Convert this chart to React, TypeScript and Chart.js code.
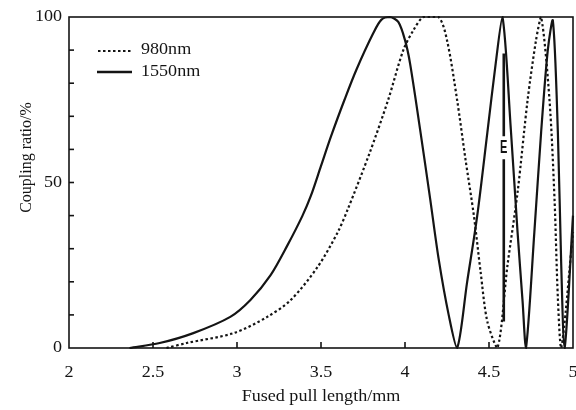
import React, { useEffect, useRef } from 'react';
import { Chart, registerables } from 'chart.js';

Chart.register(...registerables);

// 1550 nm (solid)
const x1550 = [2.36, 2.54, 2.74, 2.96, 3.08, 3.2, 3.3, 3.39, 3.44, 3.5, 3.56, 3.64, 3.71, 3.81, 3.86, 3.91, 3.96, 4.0, 4.03, 4.09, 4.15, 4.2, 4.26, 4.31, 4.37, 4.43, 4.49, 4.54, 4.58, 4.63, 4.67, 4.7, 4.72, 4.77, 4.81, 4.85, 4.88, 4.91, 4.93, 4.95, 5.0];
const y1550 = [0, 1.5, 4.5, 9.4, 14.5, 22, 31, 40, 46, 55, 64, 75, 84, 95, 99.2, 100, 98.5, 93, 86, 66, 45, 27, 10, 0, 20, 40, 65, 86, 100, 66, 35, 14, 0, 35, 65, 90, 99, 65, 25, 0, 40];

// 980 nm (dotted)
const x980 = [2.58, 2.7, 2.98, 3.18, 3.32, 3.48, 3.6, 3.66, 3.79, 3.9, 3.99, 4.05, 4.11, 4.2, 4.25, 4.31, 4.36, 4.41, 4.45, 4.49, 4.55, 4.61, 4.67, 4.73, 4.78, 4.81, 4.86, 4.89, 4.91, 4.93, 5.0];
const y980 = [0, 1.5, 4.5, 9.4, 14.5, 24.5, 35, 42, 59, 75, 90, 96, 100, 100, 93, 75, 57, 40, 23, 8, 0, 25, 47, 75, 93, 100, 75, 45, 15, 0, 35];

// vertical marker with "E"
const markerX = [4.588, 4.588, 4.588, 4.588, 4.588];
const markerY: (number | null)[] = [89, 64, null, 57, 8];
const markerLabel = 'E';

const xTicks = [2, 2.5, 3, 3.5, 4, 4.5, 5];
const xTickLabels = ['2', '2.5', '3', '3.5', '4', '4.5', '5'];
const yTicks = [0, 50, 100];
const yTickLabels = ['0', '50', '100'];
const yMinorTicks = [10, 20, 30, 40, 60, 70, 80, 90];
const legendLabels = ['980nm', '1550nm'];
const xTitle = 'Fused pull length/mm';
const yTitle = 'Coupling ratio/%';

const INK = '#141414';
const SERIF = '"Liberation Serif", "Times New Roman", serif';

function stretchText(ctx: CanvasRenderingContext2D, s: string, x: number, y: number, align: 'left' | 'center' | 'right', sx: number) {
  const w = ctx.measureText(s).width * sx;
  let x0 = x;
  if (align === 'center') x0 = x - w / 2;
  if (align === 'right') x0 = x - w;
  ctx.save();
  ctx.translate(x0, y);
  ctx.scale(sx, 1);
  ctx.textAlign = 'left';
  ctx.fillText(s, 0, 0);
  ctx.restore();
}

const decorPlugin = {
  id: 'decor',
  afterDraw(chart: any) {
    const { ctx, chartArea } = chart;
    const { left, right, top, bottom } = chartArea;
    const xs = chart.scales.x;
    const ys = chart.scales.y;
    ctx.save();
    ctx.strokeStyle = INK;
    ctx.fillStyle = INK;
    ctx.lineWidth = 1.6;
    ctx.strokeRect(left, top, right - left, bottom - top);

    ctx.lineWidth = 1.6;
    xTicks.forEach((v) => {
      if (v === xTicks[0] || v === xTicks[xTicks.length - 1]) return;
      const px = xs.getPixelForValue(v);
      ctx.beginPath();
      ctx.moveTo(px, bottom);
      ctx.lineTo(px, bottom - 6);
      ctx.stroke();
    });
    [...yMinorTicks, 50].forEach((v) => {
      const py = ys.getPixelForValue(v);
      ctx.beginPath();
      ctx.moveTo(left, py);
      ctx.lineTo(left + 5, py);
      ctx.stroke();
    });

    const SX = 1.13;
    ctx.font = `16px ${SERIF}`;
    ctx.textBaseline = 'middle';
    yTicks.forEach((v, i) => {
      stretchText(ctx, yTickLabels[i], left - 7, ys.getPixelForValue(v), 'right', SX);
    });
    xTicks.forEach((v, i) => {
      stretchText(ctx, xTickLabels[i], xs.getPixelForValue(v), bottom + 25, 'center', SX);
    });
    stretchText(ctx, xTitle, (left + right) / 2, bottom + 49, 'center', SX);

    ctx.save();
    ctx.translate(27, (top + bottom) / 2 - 25);
    ctx.rotate(-Math.PI / 2);
    ctx.textAlign = 'center';
    ctx.fillText(yTitle, 0, 0);
    ctx.restore();

    // legend
    ctx.lineWidth = 2;
    ctx.setLineDash([2.5, 2.5]);
    ctx.beginPath();
    ctx.moveTo(98, 51);
    ctx.lineTo(133, 51);
    ctx.stroke();
    ctx.setLineDash([]);
    ctx.lineWidth = 2.6;
    ctx.beginPath();
    ctx.moveTo(97, 72);
    ctx.lineTo(132, 72);
    ctx.stroke();
    stretchText(ctx, legendLabels[0], 141, 50, 'left', SX);
    stretchText(ctx, legendLabels[1], 141, 72, 'left', SX);

    // E label
    const ex = xs.getPixelForValue(markerX[0]);
    const ey = ys.getPixelForValue(60.5);
    ctx.save();
    ctx.font = `bold 13px "Liberation Sans", Arial, sans-serif`;
    ctx.translate(ex, ey);
    ctx.scale(0.85, 1.4);
    ctx.textAlign = 'center';
    ctx.textBaseline = 'middle';
    ctx.fillText(markerLabel, 0, 0.5);
    ctx.restore();

    ctx.restore();
  },
};

export default function App() {
  const canvasRef = useRef<HTMLCanvasElement | null>(null);

  useEffect(() => {
    const canvas = canvasRef.current;
    if (!canvas) return;
    const chart = new Chart(canvas, {
      type: 'line',
      data: {
        datasets: [
          {
            label: legendLabels[1],
            data: x1550.map((x, i) => ({ x, y: y1550[i] })),
            borderColor: INK,
            borderWidth: 2.2,
            pointRadius: 0,
            tension: 0.3,
            fill: false,
            clip: 4,
          },
          {
            label: legendLabels[0],
            data: x980.map((x, i) => ({ x, y: y980[i] })),
            borderColor: INK,
            borderWidth: 2.2,
            borderDash: [2.5, 2.5],
            pointRadius: 0,
            tension: 0.3,
            fill: false,
            clip: 4,
          },
          {
            label: 'marker',
            data: markerX.map((x, i) => ({ x, y: markerY[i] })),
            borderColor: INK,
            borderWidth: 2.6,
            pointRadius: 0,
            tension: 0,
            spanGaps: false,
            fill: false,
          },
        ],
      },
      options: {
        animation: false,
        responsive: true,
        maintainAspectRatio: false,
        layout: { padding: { left: 69, top: 17, right: 3, bottom: 62 } },
        plugins: { legend: { display: false }, tooltip: { enabled: false } },
        scales: {
          x: { type: 'linear', min: 2, max: 5, display: false },
          y: { type: 'linear', min: 0, max: 100, display: false },
        },
      },
      plugins: [decorPlugin],
    } as any);
    return () => chart.destroy();
  }, []);

  return (
    <div style={{ position: 'absolute', left: 0, top: 0, width: 576, height: 410, background: '#fff' }}>
      <canvas ref={canvasRef} />
    </div>
  );
}
